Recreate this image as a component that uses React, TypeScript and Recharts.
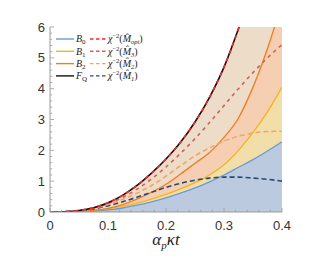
import React from "react";
import { ComposedChart, Area, Line, XAxis, YAxis, Legend } from "recharts";

// values, x = alpha_p * kappa * t
const xValues = [0, 0.025, 0.05, 0.075, 0.1, 0.125, 0.15, 0.175, 0.2, 0.225, 0.25, 0.275, 0.3, 0.325, 0.35, 0.375, 0.4];
const fisherQ = [0, 0.01, 0.05, 0.14, 0.3, 0.54, 0.86, 1.26, 1.72, 2.26, 2.92, 3.72, 4.7, 5.95, 7.4, 9.1, 11];
const chiOpt = [0, 0.01, 0.05, 0.14, 0.3, 0.54, 0.86, 1.26, 1.72, 2.26, 2.92, 3.72, 4.7, 5.95, 7.4, 9.1, 11];
const chiM3 = [0, 0.01, 0.05, 0.13, 0.27, 0.47, 0.74, 1.07, 1.46, 1.9, 2.38, 2.9, 3.45, 4.0, 4.52, 5.0, 5.43];
const chiM2 = [0, 0.01, 0.04, 0.12, 0.24, 0.41, 0.61, 0.86, 1.16, 1.5, 1.82, 2.08, 2.3, 2.46, 2.56, 2.61, 2.62];
const chiM1 = [0, 0.01, 0.04, 0.1, 0.2, 0.33, 0.48, 0.64, 0.8, 0.93, 1.03, 1.1, 1.13, 1.13, 1.1, 1.06, 1.0];
const bound2 = [0, 0.005, 0.02, 0.05, 0.12, 0.24, 0.42, 0.64, 0.9, 1.23, 1.58, 1.93, 2.42, 3.05, 4.05, 5.3, 6.8];
const bound1 = [0, 0.005, 0.02, 0.05, 0.1, 0.18, 0.29, 0.42, 0.57, 0.75, 0.95, 1.2, 1.53, 2.0, 2.58, 3.25, 4.05];
const bound0 = [0, 0, 0.01, 0.03, 0.07, 0.13, 0.22, 0.33, 0.46, 0.61, 0.78, 0.98, 1.2, 1.45, 1.7, 1.98, 2.28];

const xMajorTicks = [0, 0.1, 0.2, 0.3, 0.4];
const yMajorTicks = [0, 1, 2, 3, 4, 5, 6];

const boundNames = ["B", "B", "B", "F"];
const boundSubs = ["0", "1", "2", "Q"];
const chiSubs = ["opt", "3", "2", "1"];

const data = xValues.map((x, i) => ({
    x,
    fq: fisherQ[i],
    opt: chiOpt[i],
    m3: chiM3[i],
    m2: chiM2[i],
    m1: chiM1[i],
    b2: bound2[i],
    b1: bound1[i],
    b0: bound0[i],
}));

// minor ticks every 0.02 / 0.2 like the mathematica frame
const xTicks = Array.from({ length: 21 }, (_, i) => +(i * 0.02).toFixed(2));
const yTicks = Array.from({ length: 31 }, (_, i) => +(i * 0.2).toFixed(1));

const FRAME = "#9a9a9a";
const TICK_TEXT = "#333333";
const SANS = "'Liberation Sans', Arial, sans-serif";
const SERIF = "'Liberation Serif', 'DejaVu Serif', serif";

const C_B0 = "#6b9bd2";
const C_B1 = "#f1b520";
const C_B2 = "#f47b20";
const C_FQ = "#111111";
const C_OPT = "#ff2323";
const C_M3 = "#cf6157";
const C_M2 = "#f5a263";
const C_M1 = "#274a73";

const F_B0 = "#bccadf";
const F_B1 = "#f1dea8";
const F_B2 = "#f6ceb2";
const F_FQ = "#eddcc8";

const legendColors = [C_B0, C_B1, C_B2, C_FQ];
const legendDashColors = [C_OPT, C_M3, C_M2, C_M1];

const BottomTick = (props: any) => {
    const { x, y, payload } = props;
    const major = xMajorTicks.includes(payload.value);
    return (
        <g>
            <line x1={x} x2={x} y1={y} y2={y - (major ? 4 : 2.2)} stroke={FRAME} strokeWidth={0.8} />
            {major && (
                <text x={x} y={y + 17.8} textAnchor="middle" fontSize={13} fill={TICK_TEXT} fontFamily={SANS}>
                    {String(payload.value)}
                </text>
            )}
        </g>
    );
};

const TopTick = (props: any) => {
    const { x, y, payload } = props;
    const major = xMajorTicks.includes(payload.value);
    return <line x1={x} x2={x} y1={y} y2={y + (major ? 4 : 2.2)} stroke={FRAME} strokeWidth={0.8} />;
};

const LeftTick = (props: any) => {
    const { x, y, payload } = props;
    const major = yMajorTicks.includes(payload.value);
    return (
        <g>
            <line x1={x} x2={x + (major ? 4 : 2.2)} y1={y} y2={y} stroke={FRAME} strokeWidth={0.8} />
            {major && (
                <text x={x - 5} y={y + 4.6} textAnchor="end" fontSize={13} fill={TICK_TEXT} fontFamily={SANS}>
                    {String(payload.value)}
                </text>
            )}
        </g>
    );
};

const RightTick = (props: any) => {
    const { x, y, payload } = props;
    const major = yMajorTicks.includes(payload.value);
    return <line x1={x} x2={x - (major ? 4 : 2.2)} y1={y} y2={y} stroke={FRAME} strokeWidth={0.8} />;
};

const AxisTitle = (props: any) => {
    const vb = props.viewBox || { x: 50, y: 212, width: 232 };
    return (
        <text x={vb.x + vb.width / 2} y={vb.y + 33} textAnchor="middle" fontFamily={SERIF} fontStyle="italic" fontSize={17} fill="#222">
            α<tspan dy={3.5} fontSize={11}>p</tspan>
            <tspan dy={-3.5}>κt</tspan>
        </text>
    );
};

const LegendBox = () => (
    <svg width={160} height={85} style={{ display: "block" }}>
        {boundNames.map((name, i) => {
            const y = 39 + i * 12.3;
            return (
                <g key={i}>
                    <line x1={56} x2={74} y1={y} y2={y} stroke={legendColors[i]} strokeWidth={1.4} />
                    <text x={76} y={y + 3.2} fontFamily={SERIF} fontStyle="italic" fontSize={10} fill="#222">
                        {name}
                        <tspan dy={2} fontSize={7} fontStyle="normal">{boundSubs[i]}</tspan>
                    </text>
                    <line x1={90} x2={106} y1={y} y2={y} stroke={legendDashColors[i]} strokeWidth={1.4} strokeDasharray="3.5 2.5" />
                    <text x={108} y={y + 3.2} fontFamily={SERIF} fontSize={10} fill="#222">
                        <tspan fontStyle="italic">χ</tspan>
                        <tspan dy={-4} fontSize={6.5}>−2</tspan>
                        <tspan dy={4}>(</tspan>
                        <tspan fontStyle="italic">{"M\u0302"}</tspan>
                        <tspan dy={2} fontSize={6.5} fontStyle="italic">{chiSubs[i]}</tspan>
                        <tspan dy={-2}>)</tspan>
                    </text>
                </g>
            );
        })}
    </svg>
);

export default function App() {
    return (
        <div style={{ width: 331, height: 265, background: "#fff" }}>
            <style>{"body{margin:0}"}</style>
            <ComposedChart width={331} height={265} data={data} margin={{ top: 27, right: 49, bottom: 0, left: 0 }}>
                <XAxis
                    dataKey="x"
                    type="number"
                    domain={[0, 0.4]}
                    ticks={xTicks}
                    interval={0}
                    height={53}
                    tickSize={0}
                    tickMargin={0}
                    tick={BottomTick}
                    axisLine={{ stroke: FRAME }}
                    label={AxisTitle}
                    allowDataOverflow
                />
                <XAxis
                    xAxisId="top"
                    orientation="top"
                    dataKey="x"
                    type="number"
                    domain={[0, 0.4]}
                    ticks={xTicks}
                    interval={0}
                    height={0}
                    tickSize={0}
                    tickMargin={0}
                    tick={TopTick}
                    axisLine={{ stroke: FRAME }}
                    allowDataOverflow
                />
                <YAxis
                    type="number"
                    domain={[0, 6]}
                    ticks={yTicks}
                    interval={0}
                    width={50}
                    tickSize={0}
                    tickMargin={0}
                    tick={LeftTick}
                    axisLine={{ stroke: FRAME }}
                    allowDataOverflow
                />
                <YAxis
                    yAxisId="right"
                    orientation="right"
                    type="number"
                    domain={[0, 6]}
                    ticks={yTicks}
                    interval={0}
                    width={0}
                    tickSize={0}
                    tickMargin={0}
                    tick={RightTick}
                    axisLine={{ stroke: FRAME }}
                    allowDataOverflow
                />
                <Legend content={LegendBox} layout="vertical" align="center" verticalAlign="middle" wrapperStyle={{ top: 0, left: 0, width: 160, height: 85 }} />

                {/* bands, painted from the widest down */}
                <Area type="monotone" dataKey="fq" stroke="none" fill={F_FQ} fillOpacity={1} isAnimationActive={false} />
                <Area type="monotone" dataKey="b2" stroke="none" fill={F_B2} fillOpacity={1} isAnimationActive={false} />
                <Area type="monotone" dataKey="b1" stroke="none" fill={F_B1} fillOpacity={1} isAnimationActive={false} />
                <Area type="monotone" dataKey="b0" stroke="none" fill={F_B0} fillOpacity={1} isAnimationActive={false} />

                <Line type="monotone" dataKey="b0" stroke={C_B0} strokeWidth={1.3} dot={false} isAnimationActive={false} />
                <Line type="monotone" dataKey="b1" stroke={C_B1} strokeWidth={1.3} dot={false} isAnimationActive={false} />
                <Line type="monotone" dataKey="b2" stroke={C_B2} strokeWidth={1.3} dot={false} isAnimationActive={false} />
                <Line type="monotone" dataKey="m1" stroke={C_M1} strokeWidth={1.6} strokeDasharray="5 3" dot={false} isAnimationActive={false} />
                <Line type="monotone" dataKey="m2" stroke={C_M2} strokeWidth={1.5} strokeDasharray="5 3" dot={false} isAnimationActive={false} />
                <Line type="monotone" dataKey="m3" stroke={C_M3} strokeWidth={1.6} strokeDasharray="3.5 4" dot={false} isAnimationActive={false} />
                <Line type="monotone" dataKey="fq" stroke={C_FQ} strokeWidth={1.6} dot={false} isAnimationActive={false} />
                <Line type="monotone" dataKey="opt" stroke={C_OPT} strokeWidth={1.6} strokeDasharray="4 4" dot={false} isAnimationActive={false} />
            </ComposedChart>
        </div>
    );
}
